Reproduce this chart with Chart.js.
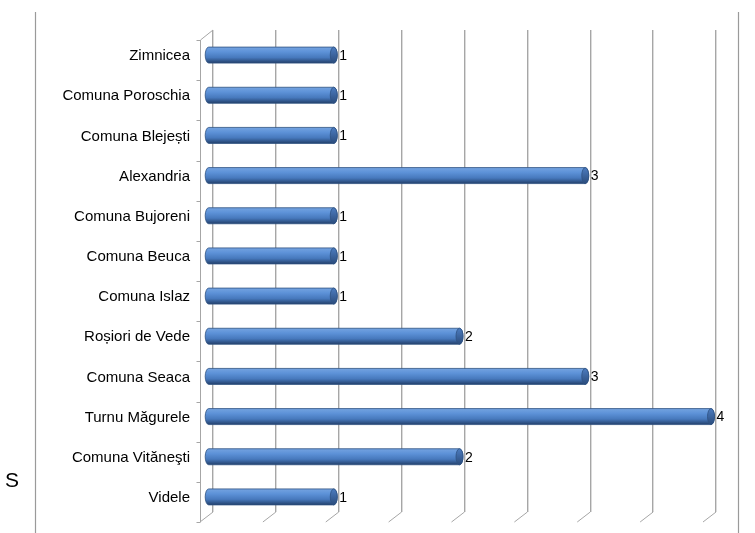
<!DOCTYPE html>
<html>
<head>
<meta charset="utf-8">
<script src="https://cdn.jsdelivr.net/npm/chart.js@4.4.0/dist/chart.umd.min.js"></script>
<style>
  html, body { margin: 0; padding: 0; background: #fff; }
  #wrap { width: 755px; height: 533px; position: relative; }
</style>
</head>
<body>
<div id="wrap"><canvas id="myChart" width="755" height="533"></canvas></div>
<script>
var categories = [
  "Zimnicea", "Comuna Poroschia", "Comuna Blejești", "Alexandria",
  "Comuna Bujoreni", "Comuna Beuca", "Comuna Islaz", "Roșiori de Vede",
  "Comuna Seaca", "Turnu Măgurele", "Comuna Vităneşti", "Videle"
];
var counts = [1, 1, 1, 3, 1, 1, 1, 2, 3, 4, 2, 1];
var axisMin = 0;
var axisMax = 4;
var axisStep = 0.5;

// 3D depth: front plane sits left/down of the back wall
var depthX = -13, depthY = 10;

var framePlugin = {
  id: 'frame',
  beforeDraw: function (chart) {
    var ctx = chart.ctx;
    ctx.save();
    ctx.strokeStyle = '#9a9a9a';
    ctx.lineWidth = 1.2;
    ctx.beginPath();
    ctx.moveTo(35.5, 12); ctx.lineTo(35.5, 533);
    ctx.moveTo(738.5, 12); ctx.lineTo(738.5, 533);
    ctx.stroke();
    ctx.fillStyle = '#000';
    ctx.font = '21px "Liberation Sans", Arial, sans-serif';
    ctx.textAlign = 'center';
    ctx.textBaseline = 'middle';
    ctx.fillText('S', 12, 481);
    ctx.restore();
  },
  beforeDatasetsDraw: function (chart) {
    var ctx = chart.ctx, a = chart.chartArea, x = chart.scales.x;
    ctx.save();
    ctx.strokeStyle = '#a6a6a6';
    ctx.lineWidth = 1;
    ctx.beginPath();
    // front category axis
    var fx = Math.round(a.left + depthX) + 0.5;
    ctx.moveTo(fx, a.top + depthY); ctx.lineTo(fx, a.bottom + depthY);
    // tick marks between categories
    for (var i = 0; i <= categories.length; i++) {
      var ty = Math.round(a.top + depthY + i * (a.bottom - a.top) / categories.length) + 0.5;
      ctx.moveTo(fx - 4, ty); ctx.lineTo(fx, ty);
    }
    // top corner diagonal
    ctx.moveTo(fx, a.top + depthY); ctx.lineTo(a.left, a.top);
    // bottom diagonals for every grid line
    for (var v = axisMin; v <= axisMax + 1e-9; v += axisStep) {
      var gx = x.getPixelForValue(v);
      ctx.moveTo(gx, a.bottom); ctx.lineTo(gx + depthX, a.bottom + depthY);
    }
    ctx.stroke();
    ctx.restore();
  },
  afterDatasetsDraw: function (chart) {
    var ctx = chart.ctx;
    var meta = chart.getDatasetMeta(0);
    ctx.save();
    ctx.translate(-5, depthY / 2);
    meta.data.forEach(function (bar, i) {
      var x0 = bar.base, x1 = bar.x, h = bar.height, yc = bar.y;
      var top = yc - h / 2, bot = yc + h / 2, rx = 3.5, ry = h / 2;
      var g = ctx.createLinearGradient(0, top, 0, bot);
      g.addColorStop(0, '#74a3e0');
      g.addColorStop(0.3, '#5d92d8');
      g.addColorStop(0.65, '#4779bd');
      g.addColorStop(1, '#23406b');
      ctx.beginPath();
      ctx.moveTo(x0, top);
      ctx.lineTo(x1, top);
      ctx.ellipse(x1, yc, rx, ry, 0, -Math.PI / 2, Math.PI / 2);
      ctx.lineTo(x0, bot);
      ctx.ellipse(x0, yc, rx, ry, 0, Math.PI / 2, Math.PI * 1.5);
      ctx.closePath();
      ctx.fillStyle = g;
      ctx.fill();
      ctx.strokeStyle = '#2f5282';
      ctx.lineWidth = 0.8;
      ctx.stroke();
      // end cap
      var cg = ctx.createLinearGradient(0, top, 0, bot);
      cg.addColorStop(0, '#4c7cc0');
      cg.addColorStop(1, '#2b4c7c');
      ctx.beginPath();
      ctx.ellipse(x1, yc, rx, ry, 0, 0, Math.PI * 2);
      ctx.fillStyle = cg;
      ctx.fill();
      ctx.stroke();
      // value label
      ctx.fillStyle = '#000';
      ctx.font = '14px "Liberation Sans", Arial, sans-serif';
      ctx.textAlign = 'left';
      ctx.textBaseline = 'middle';
      ctx.fillText(String(counts[i]), x1 + rx + 2, yc + 1);
    });
    ctx.restore();
  }
};

new Chart(document.getElementById('myChart'), {
  type: 'bar',
  data: {
    labels: categories,
    datasets: [{
      data: counts,
      backgroundColor: 'rgba(0,0,0,0)',
      borderWidth: 0,
      barThickness: 16
    }]
  },
  options: {
    indexAxis: 'y',
    responsive: false,
    animation: false,
    events: [],
    layout: { padding: { left: 0, top: 30, right: 39, bottom: 21 } },
    plugins: { legend: { display: false }, tooltip: { enabled: false } },
    scales: {
      x: {
        min: axisMin, max: axisMax,
        ticks: { display: false, stepSize: axisStep },
        grid: { color: '#a6a6a6', lineWidth: 1.4, drawTicks: false },
        border: { display: false },
        afterFit: function (scale) { scale.height = 0; }
      },
      y: {
        grid: { display: false, drawTicks: false },
        border: { display: false },
        ticks: {
          color: '#000',
          padding: 23,
          labelOffset: 6,
          font: { family: '"Liberation Sans", Arial, sans-serif', size: 15 }
        },
        afterFit: function (scale) {
          scale.width = 213;
          scale.paddingTop = 0;
          scale.paddingBottom = 0;
        }
      }
    }
  },
  plugins: [framePlugin]
});
</script>
</body>
</html>
